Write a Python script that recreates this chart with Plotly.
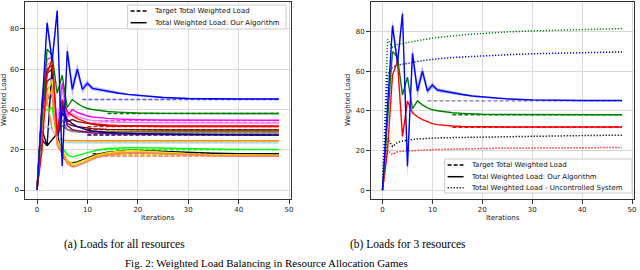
import plotly.graph_objects as go

# ---------------- data ----------------
X = [0, 1, 2, 3, 4, 5, 6, 7, 8, 9, 10, 11, 12, 14, 16, 18, 20, 25, 30, 35, 40, 48]

# 3-resource series (shared by both panels)
blue_alg  = [0, 40, 83, 64, 89, 12, 69, 50, 60, 50, 53, 50.5, 50, 49, 48.2, 47.5, 47, 46, 45.5, 45.3, 45.2, 45.2]
blue_sd   = [0, 2, 3, 4, 3, 6, 4, 4, 3, 2, 1.5, 1, 1, 0.8, 0.6, 0.5, 0.5, 0.4, 0.4, 0.3, 0.3, 0.3]
green_alg = [0, 35, 70, 67, 48, 57, 41, 45, 43, 41.5, 40.5, 40, 39.6, 39, 38.7, 38.4, 38.3, 38.1, 38, 38, 38, 38]
red_alg   = [0, 20, 58, 65, 27, 45, 39, 37, 35.5, 34.5, 33.5, 33, 32.7, 32.3, 32.1, 32, 31.9, 31.8, 31.8, 31.8, 31.8, 31.8]

green_unc = [0, 76, 72, 73.5, 74, 74.5, 75, 75.5, 76, 76.3, 76.7, 77, 77.3, 77.8, 78.3, 78.7, 79.1, 79.8, 80.3, 80.7, 81, 81.5]
blue_unc  = [0, 58, 62, 63, 63.5, 64, 64.5, 65, 65.3, 65.6, 66, 66.2, 66.5, 66.9, 67.2, 67.5, 67.8, 68.3, 68.8, 69.1, 69.4, 69.7]
black_unc = [0, 26, 22, 24, 24.7, 25.2, 25.5, 25.8, 26, 26.1, 26.2, 26.3, 26.4, 26.5, 26.6, 26.7, 26.8, 27, 27.2, 27.4, 27.5, 27.7]
red_unc   = [0, 20, 18, 19.3, 19.6, 19.8, 20, 20.1, 20.2, 20.3, 20.4, 20.5, 20.6, 20.7, 20.8, 20.9, 21, 21.1, 21.2, 21.3, 21.4, 21.5]

# targets: (value, first iteration)
blue_target  = [45, 9]
green_target = [38, 14]
red_target   = [31.7, 14]

# other resources of panel (a)
magenta  = [0, 45, 65, 66, 30, 53, 37, 40, 38.5, 37.5, 36.8, 36.3, 36, 35.6, 35.3, 35.1, 35, 34.8, 34.7, 34.7, 34.7, 34.7]
pink     = [0, 40, 62, 64, 30, 50, 36, 38, 36.5, 35.7, 35, 34.6, 34.3, 34, 33.8, 33.6, 33.5, 33.4, 33.3, 33.3, 33.3, 33.3]
darkred  = [0, 40, 60, 62, 28, 44, 34, 35, 34, 33.5, 33, 32.6, 32.3, 32, 31.8, 31.7, 31.6, 31.5, 31.5, 31.5, 31.5, 31.5]
maroon   = [0, 42, 58, 60, 25, 42, 33, 32, 31.5, 31, 30.8, 30.5, 30.3, 30.1, 30, 29.9, 29.9, 29.8, 29.8, 29.8, 29.8, 29.8]
olive    = [0, 37, 45, 47, 27, 32, 30, 29.5, 29.3, 29.2, 29.1, 29, 29, 29, 29, 29, 29, 29, 29, 29, 29, 29]
gray     = [0, 36, 50, 52, 26, 35, 30, 29, 28.8, 28.6, 28.5, 28.4, 28.4, 28.3, 28.3, 28.3, 28.3, 28.3, 28.3, 28.3, 28.3, 28.3]
purple   = [0, 38, 54, 56, 28, 40, 32, 30, 29.5, 29, 28.7, 28.4, 28.2, 28, 27.8, 27.7, 27.6, 27.5, 27.4, 27.4, 27.4, 27.4]
navy     = [0, 25, 22, 61, 25, 38, 35, 33, 31.5, 30.5, 29.8, 29.3, 29, 28.6, 28.3, 28.1, 28, 27.8, 27.6, 27.5, 27.4, 27.3]
orange2  = [0, 35, 45, 30, 26, 25, 24.5, 24.5, 24.5, 24.5, 24.5, 24.5, 24.5, 24.5, 24.5, 24.5, 24.5, 24.5, 24.5, 24.5, 24.5, 24.5]
lightblu = [0, 30, 32, 30, 27, 24, 23.5, 23.5, 23.5, 23.5, 23.5, 23.5, 23.5, 23.5, 23.5, 23.5, 23.5, 23.5, 23.5, 23.5, 23.5, 23.5]
lime     = [0, 38, 40, 41, 25, 21, 17.5, 16.5, 17, 17.8, 18.6, 19.3, 19.9, 20.6, 20.9, 21, 21, 20.8, 20.5, 20.3, 20.2, 20.2]
black    = [0, 30, 22, 25, 28, 17, 14, 13.5, 14, 15, 16, 17, 17.8, 18.8, 19.4, 19.7, 19.7, 19.2, 18.6, 18.3, 18.1, 18]
yellow   = [0, 35, 48, 55, 25, 20, 15, 13, 13.5, 14.5, 15.5, 16.5, 17.5, 18.5, 19.2, 19.5, 19.5, 18.8, 18, 17.6, 17.4, 17.3]
orange   = [0, 33, 45, 50, 24, 19, 14, 12, 12.5, 13.5, 14.8, 15.8, 16.7, 17.8, 18.5, 18.8, 18.8, 18.2, 17.6, 17.2, 17, 17]
salmon   = [0, 30, 47, 48, 22, 18, 13, 11.5, 12, 13, 14.2, 15.2, 16.2, 17.3, 18, 18.4, 18.5, 18, 17.4, 17, 16.8, 16.8]

others = [
    ("magenta", magenta, [34.5, 11]),
    ("violet", pink, [33.5, 11]),
    ("darkred", darkred, [31.5, 10]),
    ("maroon", maroon, [30, 10]),
    ("olive", olive, [29, 10]),
    ("gray", gray, [28.3, 10]),
    ("purple", purple, [27.5, 10]),
    ("navy", navy, [27.3, 10]),
    ("darkorange", orange2, [24.5, 10]),
    ("lightblue", lightblu, [23.5, 10]),
    ("lime", lime, [20, 12]),
    ("black", black, [18, 11]),
    ("#f2e000", yellow, [17.5, 11]),
    ("orange", orange, [17, 11]),
    ("salmon", salmon, [16.8, 11]),
]

X_END = 48
FONT = "DejaVu Sans"
DASH = "4px,2px"
DOT = "1.2px,1.8px"

fig = go.Figure()

def line(xa, ya, color, dash="solid", width=1.4, ax=1, opacity=1.0):
    fig.add_trace(go.Scatter(x=xa, y=ya, mode="lines",
                             line=dict(color=color, width=width, dash=dash),
                             opacity=opacity, showlegend=False, hoverinfo="skip",
                             xaxis="x" if ax == 1 else "x2", yaxis="y" if ax == 1 else "y2"))

def band(mean, sd, rgba, ax):
    lo = [m - s for m, s in zip(mean, sd)]
    hi = [m + s for m, s in zip(mean, sd)]
    xa = "x" if ax == 1 else "x2"
    ya = "y" if ax == 1 else "y2"
    fig.add_trace(go.Scatter(x=X, y=lo, mode="lines", line=dict(width=0), showlegend=False,
                             hoverinfo="skip", xaxis=xa, yaxis=ya))
    fig.add_trace(go.Scatter(x=X, y=hi, mode="lines", line=dict(width=0), fill="tonexty",
                             fillcolor=rgba, showlegend=False, hoverinfo="skip", xaxis=xa, yaxis=ya))

def target(tv, color, ax, opacity=1.0):
    line([tv[1], X_END], [tv[0], tv[0]], color, DASH, 1.4, ax, opacity)

# ---------- panel (a) ----------
for col, ys, tv in others:
    target(tv, col, 1, 0.8)
for col, ys, tv in others:
    line(X, ys, col, ax=1)
target(red_target, "red", 1)
target(green_target, "green", 1)
target(blue_target, "#5555ee", 1)
band(blue_alg, blue_sd, "rgba(0,0,255,0.25)", 1)
line(X, red_alg, "red", ax=1)
line(X, green_alg, "green", ax=1)
line(X, blue_alg, "blue", ax=1)

# ---------- panel (b) ----------
line(X, green_unc, "green", DOT, 1.5, 2)
line(X, blue_unc, "blue", DOT, 1.5, 2)
line(X, black_unc, "black", DOT, 1.5, 2)
line(X, red_unc, "red", DOT, 1.5, 2)
target(blue_target, "#7777aa", 2)
target(green_target, "green", 2)
target(red_target, "red", 2)
band(blue_alg, blue_sd, "rgba(0,0,255,0.25)", 2)
line(X, red_alg, "red", ax=2)
line(X, green_alg, "green", ax=2)
line(X, blue_alg, "blue", ax=2)

# ---------- axes ----------
W, H = 640, 270
def px(v): return v / W
def py(v): return 1 - v / H

axis_common = dict(showline=True, mirror=True, linecolor="#333", linewidth=1,
                   showgrid=True, gridcolor="#d9d9d9", gridwidth=1, zeroline=False,
                   ticks="outside", ticklen=3.5, tickcolor="#333",
                   ticklabeloverflow="allow",
                   tickfont=dict(family=FONT, size=7, color="#222"))

fig.update_layout(
    width=W, height=H, margin=dict(l=0, r=0, t=0, b=0),
    paper_bgcolor="white", plot_bgcolor="white", showlegend=False,
    xaxis=dict(domain=[px(25), px(292)], range=[-2.4, 50.4], tickvals=[0, 10, 20, 30, 40, 50], anchor="y", **axis_common),
    yaxis=dict(domain=[py(199), py(2)], range=[-4.45, 93.4], tickvals=[0, 20, 40, 60, 80], anchor="x", **axis_common),
    xaxis2=dict(domain=[px(371.7), px(636)], range=[-2.4, 50.4], tickvals=[0, 10, 20, 30, 40, 50], anchor="y2", **axis_common),
    yaxis2=dict(domain=[py(199), py(2)], range=[-4.5, 94.9], tickvals=[0, 20, 40, 60, 80], anchor="x2", **axis_common),
)

ann = []
shapes = []
def text(x, y, s, size=7, family=FONT, xanchor="center", angle=0, color="#111"):
    ann.append(dict(x=px(x), y=py(y), xref="paper", yref="paper", text=s, showarrow=False,
                    xanchor=xanchor, yanchor="middle", textangle=angle,
                    font=dict(family=family, size=size, color=color)))

# axis titles
text(158, 218, "Iterations")
text(505, 218, "Iterations")
text(4, 100, "Weighted Load", angle=-90)
text(349, 100, "Weighted Load", angle=-90)

# legends
def legend(x0, y0, x1, y1, rows):
    shapes.append(dict(type="rect", xref="paper", yref="paper", x0=px(x0), x1=px(x1), y0=py(y1), y1=py(y0),
                       fillcolor="rgba(255,255,255,0.85)", line=dict(color="#cccccc", width=1)))
    for (yy, dash, label) in rows:
        shapes.append(dict(type="line", xref="paper", yref="paper", x0=px(x0 + 3), x1=px(x0 + 19),
                           y0=py(yy), y1=py(yy), line=dict(color="black", width=1.5, dash=dash)))
        text(x0 + 24, yy, label, xanchor="left")

legend(128, 5, 287, 29, [(11, DASH, "Target Total Weighted Load"),
                         (22.7, "solid", "Total Weighted Load: Our Algorithm")])
legend(446, 159, 634, 193, [(165, DASH, "Target Total Weighted Load"),
                            (176.7, "solid", "Total Weighted Load: Our Algorithm"),
                            (187.7, DOT, "Total Weighted Load - Uncontrolled System")])

# captions
SERIF = "Liberation Serif"
text(125, 244, "(a) Loads for all resources", size=11.5, family=SERIF, color="#000")
text(409, 244, "(b) Loads for 3 resources", size=11.5, family=SERIF, color="#000")
text(267, 263, "Fig. 2: Weighted Load Balancing in Resource Allocation Games", size=11, family=SERIF, color="#000")

fig.update_layout(annotations=ann, shapes=shapes)
fig.write_html("out.html", config={"displayModeBar": False},
               post_script="document.body.style.margin='0';document.body.style.padding='0';document.body.style.overflow='hidden';")
